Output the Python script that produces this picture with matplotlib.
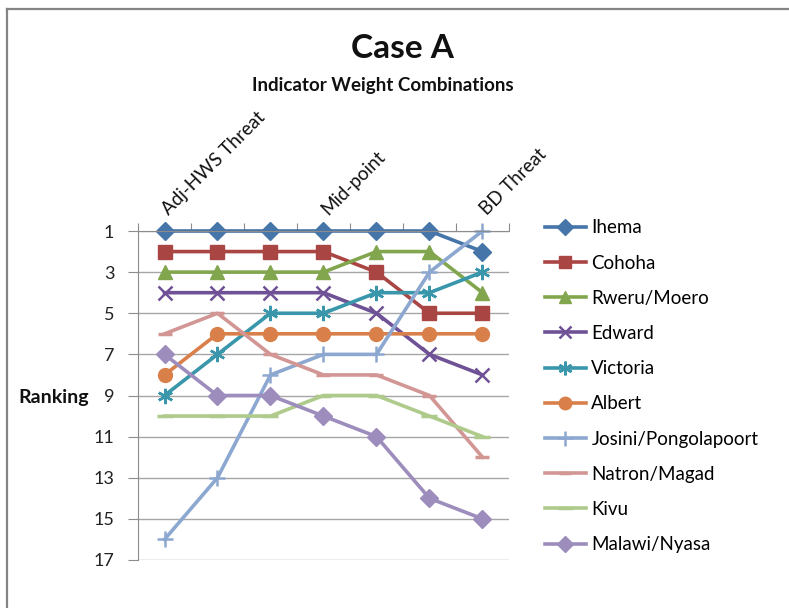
import matplotlib
matplotlib.use("Agg")
import matplotlib.pyplot as plt
from matplotlib.lines import Line2D
import matplotlib.transforms as mtransforms

plt.rcParams['font.family'] = ['Lato', 'DejaVu Sans']

x_positions = [1, 2, 3, 4, 5, 6, 7]
top_labels = {1: "Adj-HWS Threat", 4: "Mid-point", 7: "BD Threat"}
series_names = ["Ihema", "Cohoha", "Rweru/Moero", "Edward", "Victoria", "Albert",
                "Josini/Pongolapoort", "Natron/Magad", "Kivu", "Malawi/Nyasa"]
ihema = [1, 1, 1, 1, 1, 1, 2]
cohoha = [2, 2, 2, 2, 3, 5, 5]
rweru = [3, 3, 3, 3, 2, 2, 4]
edward = [4, 4, 4, 4, 5, 7, 8]
victoria = [9, 7, 5, 5, 4, 4, 3]
albert = [8, 6, 6, 6, 6, 6, 6]
josini = [16, 13, 8, 7, 7, 3, 1]
natron = [6, 5, 7, 8, 8, 9, 12]
kivu = [10, 10, 10, 9, 9, 10, 11]
malawi = [7, 9, 9, 10, 11, 14, 15]
y_ticks = [1, 3, 5, 7, 9, 11, 13, 15, 17]

values = [ihema, cohoha, rweru, edward, victoria, albert, josini, natron, kivu, malawi]
colors = ["#4675A9", "#A94543", "#82A64E", "#6F5295", "#3A97AB", "#D9804A",
          "#8DA8D0", "#D29694", "#AECB8C", "#9D8DBD"]
markers = ["D", "s", "^", "x", (6, 2, 0), "o", "+", "_", "_", "D"]
msizes = [9, 10, 10, 10, 11, 10, 12, 10, 12, 9]
mews = [1, 1, 1, 1.8, 1.8, 1, 1.8, 2.5, 2.5, 1]

fig = plt.figure(figsize=(7.89, 6.08), dpi=100)
W, H = 789, 608
ax = fig.add_axes([138 / W, 1 - 560 / H, (509 - 138) / W, (560 - 231) / H])

for name, vals, c, m, ms, mew in zip(series_names, values, colors, markers, msizes, mews):
    ax.plot(x_positions, vals, color=c, lw=2.6, marker=m, markersize=ms,
            markeredgewidth=mew, markerfacecolor=c, markeredgecolor=c, label=name,
            solid_joinstyle='round', clip_on=False)

ax.set_xlim(0.5, 7.5)
ax.set_ylim(17, 1)
ax.set_yticks(y_ticks)
ax.set_yticklabels([str(v) for v in y_ticks], fontsize=13, color="#222222")
ax.yaxis.grid(True, color="#A6A6A6", lw=1)
ax.set_axisbelow(True)
for s in ["right", "bottom"]:
    ax.spines[s].set_visible(False)
ax.spines["left"].set_color("#8C8C8C")
ax.spines["top"].set_color("#8C8C8C")
ax.tick_params(axis='y', length=7, color="#8C8C8C", pad=10)
ax.xaxis.tick_top()
ax.set_xticks([0.5 + i for i in range(8)])
ax.set_xticklabels([])
ax.tick_params(axis='x', length=6, color="#8C8C8C", direction='out')

trans = mtransforms.blended_transform_factory(ax.transData, ax.transAxes)
for xp, lab in top_labels.items():
    ax.text(xp + 0.12, 1.04, lab, transform=trans, rotation=45, rotation_mode='anchor',
            ha='left', va='bottom', fontsize=13.5, color="#111111")

fig.text(402 / W, 1 - 48 / H, "Case A", ha='center', va='center', fontsize=24,
         fontweight='bold', color="#111111")
fig.text(383 / W, 1 - 85 / H, "Indicator Weight Combinations", ha='center', va='center',
         fontsize=13.5, fontweight='bold', color="#111111")
fig.text(18 / W, 1 - 397 / H, "Ranking", ha='left', va='center', fontsize=14,
         fontweight='bold', color="#111111")

handles, labels = ax.get_legend_handles_labels()
fig.legend(handles, labels, loc='upper left', bbox_to_anchor=(537 / W, 1 - 212 / H),
           frameon=False, fontsize=13.5, handlelength=2.2, labelspacing=0.97,
           handletextpad=0.3, borderaxespad=0, markerscale=0.9)

fig.add_artist(Line2D([6.5 / W, 6.5 / W], [0, 1 - 8.5 / H], color="#848484", lw=1.6,
                      transform=fig.transFigure))
fig.add_artist(Line2D([6.5 / W, 1], [1 - 8.5 / H, 1 - 8.5 / H], color="#848484", lw=1.6,
                      transform=fig.transFigure))

fig.savefig("out.png", dpi=100)
